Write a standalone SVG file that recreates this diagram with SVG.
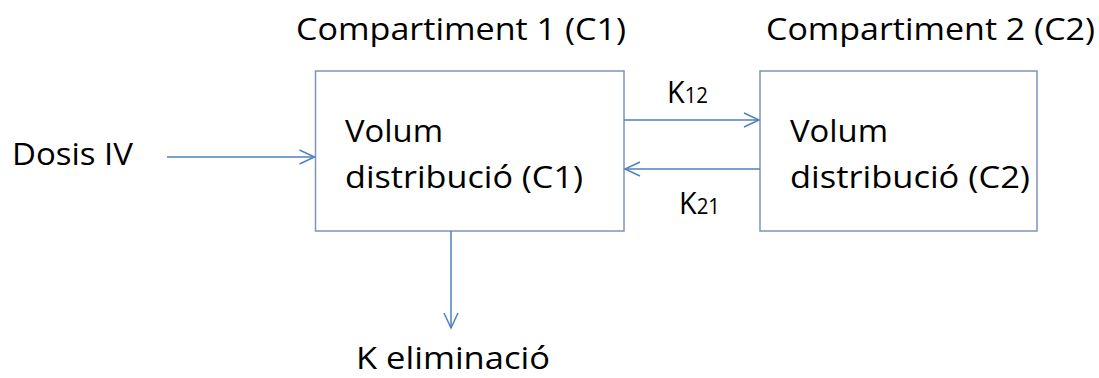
<svg xmlns="http://www.w3.org/2000/svg" width="1099" height="378" viewBox="0 0 1099 378">
<style>
text{font-family:"Open Sans","Liberation Sans",sans-serif;font-size:31px;fill:#000}
.sub{font-size:22px}
.box{fill:#fff;stroke:#7f94b8;stroke-width:1.5}
.ln{stroke:#4f81bd;stroke-width:1.5;fill:none}
</style>
<defs>
<marker id="ah" markerWidth="20" markerHeight="20" refX="16" refY="8" orient="auto" markerUnits="userSpaceOnUse">
<path d="M1,1 L16,8 L1,15" fill="none" stroke="#4f81bd" stroke-width="1.5"/>
</marker>
</defs>
<rect width="1099" height="378" fill="#fff"/>
<g id="c1">
<rect class="box" x="315.5" y="71" width="308.5" height="160"/>
<text x="345" y="142" textLength="98" lengthAdjust="spacingAndGlyphs">Volum</text>
<text x="345" y="188" textLength="238" lengthAdjust="spacingAndGlyphs">distribució (C1)</text>
</g>
<g id="c2">
<rect class="box" x="760" y="71" width="277" height="160"/>
<text x="790" y="142" textLength="98" lengthAdjust="spacingAndGlyphs">Volum</text>
<text x="790" y="188" textLength="240" lengthAdjust="spacingAndGlyphs">distribució (C2)</text>
</g>
<g id="labels">
<text x="296" y="40" textLength="330" lengthAdjust="spacingAndGlyphs">Compartiment 1 (C1)</text>
<text x="766" y="40" textLength="329" lengthAdjust="spacingAndGlyphs">Compartiment 2 (C2)</text>
<text x="12" y="165" textLength="121" lengthAdjust="spacingAndGlyphs">Dosis IV</text>
<text x="356" y="369" textLength="194" lengthAdjust="spacingAndGlyphs">K eliminació</text>
<text x="667" y="103" textLength="41" lengthAdjust="spacingAndGlyphs">K<tspan class="sub">12</tspan></text>
<text x="679" y="214" textLength="41" lengthAdjust="spacingAndGlyphs">K<tspan class="sub">21</tspan></text>
</g>
<g id="connectors">
<line class="ln" x1="167" y1="157" x2="314.5" y2="157" marker-end="url(#ah)"/>
<line class="ln" x1="624" y1="120" x2="759" y2="120" marker-end="url(#ah)"/>
<line class="ln" x1="760" y1="169" x2="625" y2="169" marker-end="url(#ah)"/>
<line class="ln" x1="451" y1="231" x2="451" y2="328" marker-end="url(#ah)"/>
</g>
</svg>
